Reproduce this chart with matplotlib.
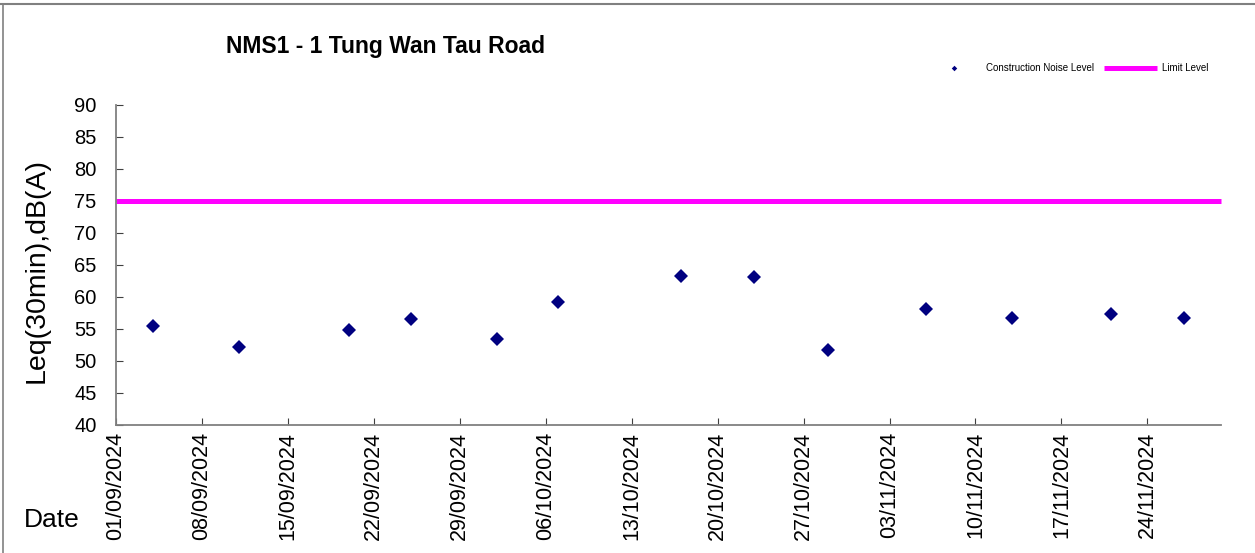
import pandas as pd
import matplotlib
matplotlib.use('Agg')
import matplotlib.pyplot as plt
import matplotlib.dates as mdates
from matplotlib.lines import Line2D

plt.rcParams['font.family'] = ['Liberation Sans', 'DejaVu Sans']

#################### Data ####################
MEASURE_DATES = ['04/09/2024', '11/09/2024', '20/09/2024', '25/09/2024', '02/10/2024',
                 '07/10/2024', '17/10/2024', '23/10/2024', '29/10/2024', '06/11/2024',
                 '13/11/2024', '21/11/2024', '27/11/2024']
NOISE_LEVEL = [55.5, 52.2, 54.8, 56.5, 53.5, 59.2, 63.3, 63.2, 51.7, 58.2, 56.7, 57.3, 56.7]
LIMIT_DATES = ['01/09/2024', '30/11/2024']
LIMIT_LEVEL = [75, 75]
TICK_START = '01/09/2024'
TICK_END = '24/11/2024'
TITLE = 'NMS1 - 1 Tung Wan Tau Road'
#################### Data ####################

dates = pd.to_datetime(MEASURE_DATES, dayfirst=True)
limit_dates = pd.to_datetime(LIMIT_DATES, dayfirst=True)
ticks = pd.date_range(pd.to_datetime(TICK_START, dayfirst=True),
                      pd.to_datetime(TICK_END, dayfirst=True), freq='7D')

fig = plt.figure(figsize=(12.55, 5.53), dpi=100)
ax = fig.add_axes([116 / 1255, 1 - 425 / 553, (1221 - 116) / 1255, (425 - 105) / 553])

ax.plot(dates, NOISE_LEVEL, linestyle='none', marker='D', markersize=7,
        color='#000080', markeredgewidth=0, label='Construction Noise Level')
ax.plot(limit_dates, LIMIT_LEVEL, color='#FF00FF', linewidth=3.6,
        label='Limit Level', clip_on=False, solid_capstyle='butt')

ax.set_xlim(limit_dates[0], limit_dates[1])
ax.set_ylim(40, 90)
ax.set_yticks(range(40, 91, 5))
ax.set_xticks(ticks)
ax.xaxis.set_major_formatter(mdates.DateFormatter('%d/%m/%Y'))

for s in ['top', 'right']:
    ax.spines[s].set_visible(False)
for s in ['left', 'bottom']:
    ax.spines[s].set_color('#808080')
    ax.spines[s].set_linewidth(1.3)

ax.tick_params(axis='y', direction='in', length=5, color='#404040', labelsize=14.5, pad=14)
ax.tick_params(axis='x', direction='in', length=5, color='#404040', labelsize=15.5,
               pad=5, labelrotation=90)

fig.text(0.029, 1 - 270 / 553, 'Leq(30min),dB(A)', rotation=90, fontsize=20.5,
         ha='center', va='center')
fig.text(52 / 1255, 1 - 520 / 553, 'Date', fontsize=19, ha='center', va='center')
fig.text(385 / 1255, 1 - 47 / 553, TITLE, fontsize=16.5, fontweight='bold',
         ha='center', va='center')

fig.legend(loc='center right', bbox_to_anchor=(0.966, 1 - 68 / 553), ncol=2,
           fontsize=7, frameon=False, markerscale=0.4, handlelength=5.5,
           handletextpad=0.5, columnspacing=1.0, borderaxespad=0)

# chart border (top and left edge visible)
fig.add_artist(Line2D([0, 1], [1 - 4 / 553, 1 - 4 / 553], color='#808080', linewidth=1.5,
                      transform=fig.transFigure))
fig.add_artist(Line2D([3 / 1255, 3 / 1255], [0, 1 - 4 / 553], color='#808080', linewidth=1.2,
                      transform=fig.transFigure))

plt.savefig('out.png', dpi=100)
